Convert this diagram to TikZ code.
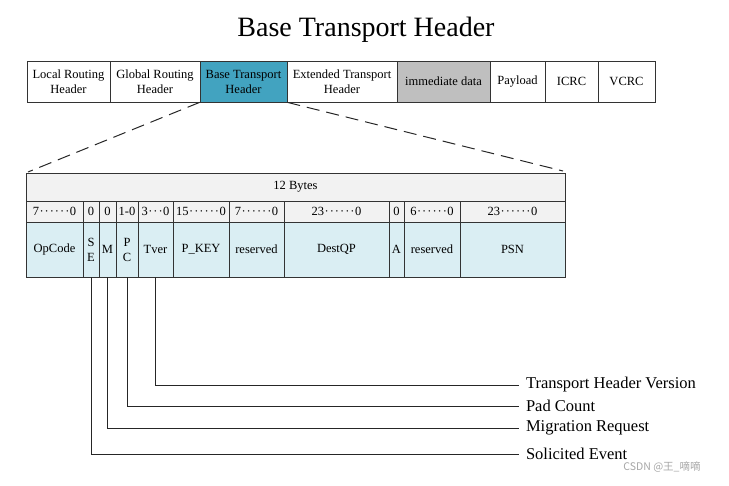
\documentclass[tikz,border=0pt]{standalone}
\usepackage{fontspec}
\setmainfont{Liberation Serif}
\newfontfamily\cjk{Noto Sans CJK SC}
\usepackage{tikz}
\usetikzlibrary{positioning}
\definecolor{bthblue}{RGB}{66,163,192}
\definecolor{immgray}{RGB}{191,191,191}
\definecolor{fieldblue}{RGB}{218,238,243}
\definecolor{rowgray}{RGB}{242,242,242}
\newcommand{\bitdot}{\kern0.5pt·\kern0.5pt}
\newcommand{\threedots}{\bitdot\bitdot\bitdot}
\newcommand{\sixdots}{\threedots\threedots}

\begin{document}
\begin{tikzpicture}[x=1pt,y=-1pt,
    cell/.style={draw=black!80,line width=0.8pt,inner sep=0pt,align=center,
      font=\fontsize{12.5}{15}\selectfont},
    hdrcell/.style={cell,minimum height=41},
    bitcell/.style={cell,fill=rowgray,minimum height=21},
    fieldcell/.style={cell,fill=fieldblue,minimum height=55},
    lead/.style={draw=black!85,line width=0.9pt},
    zoomline/.style={draw=black!85,line width=1pt,dash pattern=on 13pt off 7pt},
    fieldname/.style={anchor=west,inner sep=0pt,outer xsep=7pt,
      font=\fontsize{16.5}{18}\selectfont}]
    \useasboundingbox (0,0) rectangle (729,486);

    % title
    \node[font=\fontsize{28}{30}\selectfont,anchor=base,inner sep=0pt] (title) at (366,37) {Base Transport Header};

    % packet headers
    \foreach \l/\r/\nm/\txt/\c in {27/110/lrh/Local Routing\\Header/white,
        110/200/grh/Global Routing\\Header/white,
        200/287/bth/Base Transport\\Header/bthblue,
        287/397/eth/Extended Transport\\Header/white,
        397/490/imm/immediate data/immgray,
        490/545/pay/Payload/white,
        545/598/icrc/ICRC/white,
        598/655/vcrc/VCRC/white}
      \node[hdrcell,fill=\c,minimum width={\r-\l}] (\nm) at ({(\l+\r)/2},81.5) {\txt};

    % zoom lines
    \coordinate (tl) at (28,172);
    \coordinate (tr) at (563,171);
    \draw[zoomline] (bth.south west) -- (tl);
    \draw[zoomline] (bth.south east) -- (tr);

    % BTH layout
    \node[cell,fill=rowgray,minimum width=539,minimum height=28] (bytes) at (295.5,187) {12 Bytes};
    \foreach \l/\r/\b/\f [count=\i] in {26/83/7\sixdots0/OpCode,
        83/99/0/S\\E,
        99/116/0/M,
        116/138/1-0/P\\C,
        138/173/3\threedots0/Tver,
        173/229/15\sixdots0/P\_KEY,
        229/284/7\sixdots0/reserved,
        284/389/23\sixdots0/DestQP,
        389/404/0/A,
        404/460/6\sixdots0/reserved,
        460/565/23\sixdots0/PSN}
    {
      \node[bitcell,minimum width={\r-\l}] (b\i) at ({(\l+\r)/2},211.5) {\b};
      \node[fieldcell,minimum width={\r-\l}] (f\i) at ({(\l+\r)/2},249.5) {\f};
    }

    % field names
    \node[fieldname] (tver) at (519,385) {Transport Header Version};
    \node[fieldname] (pc) at (519,406) {Pad Count};
    \node[fieldname] (mig) at (519,428) {Migration Request};
    \node[fieldname] (se) at (519,454) {Solicited Event};
    \draw[lead] (f5.south) |- (tver.west);
    \draw[lead] (f4.south) |- (pc.west);
    \draw[lead] (f3.south) |- (mig.west);
    \draw[lead] (f2.south) |- (se.west);

    \node[text=black!35,font=\cjk\fontsize{10.5}{11}\selectfont,inner sep=0pt] (wm) at (662,467) {CSDN @王\_嘀嘀};
\end{tikzpicture}
\end{document}
